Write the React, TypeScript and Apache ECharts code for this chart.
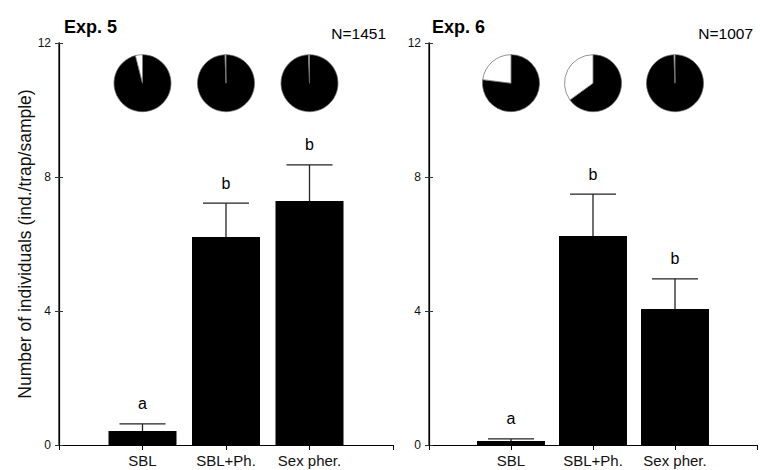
import React, { useEffect, useRef } from "react";
import * as echarts from "echarts";

const categories = ["SBL", "SBL+Ph.", "Sex pher."];
const exp5Means = [0.42, 6.21, 7.28];
const exp5Errors = [0.21, 1.01, 1.08];
const exp5Letters = ["a", "b", "b"];
const exp5PieWhite = [4, 0.6, 0.6];
const exp6Means = [0.12, 6.24, 4.06];
const exp6Errors = [0.06, 1.25, 0.9];
const exp6Letters = ["a", "b", "b"];
const exp6PieWhite = [23, 35, 0.6];
const yTicks = [0, 4, 8, 12];
const panelTitles = ["Exp. 5", "Exp. 6"];
const panelN = ["N=1451", "N=1007"];
const yAxisName = "Number of individuals (ind./trap/sample)";
const pieLevel = 10.8;

const FONT = 'Arial, "Liberation Sans", sans-serif';

const panels = [
  { means: exp5Means, errors: exp5Errors, letters: exp5Letters, pies: exp5PieWhite },
  { means: exp6Means, errors: exp6Errors, letters: exp6Letters, pies: exp6PieWhite },
];

function baseSeries() {
  const series: any[] = [];
  panels.forEach((p, g) => {
    series.push({
      type: "bar",
      xAxisIndex: g * 2,
      yAxisIndex: g * 2,
      barWidth: 68,
      itemStyle: { color: "#000" },
      silent: true,
      data: p.means.map((m, i) => [i + 1, m]),
    });
    series.push({
      type: "custom",
      xAxisIndex: g * 2,
      yAxisIndex: g * 2,
      silent: true,
      z: 5,
      data: p.means.map((m, i) => [i + 1, m, p.errors[i]]),
      renderItem: (params: any, api: any) => {
        const x = api.value(0);
        const m = api.value(1);
        const e = api.value(2);
        const p0 = api.coord([x, m]);
        const p1 = api.coord([x, m + e]);
        const half = 23;
        const stroke = { stroke: "#222", lineWidth: 1.3 };
        return {
          type: "group",
          children: [
            { type: "line", shape: { x1: p0[0], y1: p0[1], x2: p1[0], y2: p1[1] }, style: stroke },
            { type: "line", shape: { x1: p1[0] - half, y1: p1[1], x2: p1[0] + half, y2: p1[1] }, style: stroke },
            {
              type: "text",
              style: {
                text: p.letters[params.dataIndex],
                x: p1[0],
                y: p1[1] - 12,
                align: "center",
                verticalAlign: "bottom",
                fontSize: 16,
                fontFamily: FONT,
                fill: "#000",
              },
            },
          ],
        };
      },
    });
  });
  return series;
}

function buildOption(pieCenters: number[][][] | null) {
  const grids = [
    { left: 59, top: 43, width: 334, bottom: 25 },
    { left: 429, top: 43, width: 334, bottom: 25 },
  ];
  const xAxes: any[] = [];
  const yAxes: any[] = [];
  grids.forEach((_, g) => {
    xAxes.push({
      type: "value",
      gridIndex: g,
      min: 0,
      max: 4,
      interval: 1,
      position: "bottom",
      axisLine: { lineStyle: { color: "#000", width: 1.2 } },
      axisTick: { show: false },
      splitLine: { show: false },
      axisLabel: {
        margin: 8,
        fontSize: 15,
        fontFamily: FONT,
        color: "#111",
        formatter: (v: number) => categories[v - 1] ?? "",
      },
    });
    xAxes.push({
      type: "value",
      gridIndex: g,
      min: 0,
      max: 4,
      interval: 1,
      position: "top",
      axisLine: { lineStyle: { color: "#000", width: 1.2 } },
      axisTick: { show: true, inside: true, length: 5, lineStyle: { color: "#000" } },
      splitLine: { show: false },
      axisLabel: { show: false },
    });
    yAxes.push({
      type: "value",
      gridIndex: g,
      min: yTicks[0],
      max: yTicks[yTicks.length - 1],
      interval: yTicks[1] - yTicks[0],
      position: "left",
      name: g === 0 ? yAxisName : "",
      nameLocation: "middle",
      nameGap: 25,
      nameTextStyle: { fontSize: 17.5, fontFamily: FONT, color: "#111" },
      axisLine: { show: true, lineStyle: { color: "#444", width: 1.6 } },
      axisTick: { show: true, inside: true, length: 4, lineStyle: { color: "#333" } },
      splitLine: { show: false },
      axisLabel: { margin: 8, fontSize: 12, fontFamily: FONT, color: "#111" },
    });
    yAxes.push({
      type: "value",
      gridIndex: g,
      min: yTicks[0],
      max: yTicks[yTicks.length - 1],
      interval: yTicks[1] - yTicks[0],
      position: "right",
      axisLine: { show: true, lineStyle: { color: "#000", width: 1.2 } },
      axisTick: { show: true, inside: true, length: 4, lineStyle: { color: "#333" } },
      splitLine: { show: false },
      axisLabel: { show: false },
    });
  });

  const series = baseSeries();
  if (pieCenters) {
    panels.forEach((p, g) => {
      p.pies.forEach((white, i) => {
        series.push({
          type: "pie",
          silent: true,
          center: pieCenters[g][i],
          radius: 28.5,
          startAngle: 90,
          clockwise: true,
          label: { show: false },
          labelLine: { show: false },
          itemStyle: { borderColor: "#666", borderWidth: 0.7 },
          data: [
            { name: "black", value: 100 - white, itemStyle: { color: "#000" } },
            { name: "white", value: white, itemStyle: { color: "#fff" } },
          ],
        });
      });
    });
  }

  return {
    animation: false,
    backgroundColor: "#fff",
    title: [
      { text: panelTitles[0], left: 59, top: 13, textStyle: { fontSize: 18, fontWeight: "bold", fontFamily: FONT, color: "#000" } },
      { text: panelN[0], right: 369, top: 20, textStyle: { fontSize: 15.5, fontWeight: "normal", fontFamily: FONT, color: "#000" } },
      { text: panelTitles[1], left: 427, top: 13, textStyle: { fontSize: 18, fontWeight: "bold", fontFamily: FONT, color: "#000" } },
      { text: panelN[1], right: 2, top: 20, textStyle: { fontSize: 15.5, fontWeight: "normal", fontFamily: FONT, color: "#000" } },
    ],
    grid: grids,
    xAxis: xAxes,
    yAxis: yAxes,
    series,
  };
}

export default function App() {
  const ref = useRef<HTMLDivElement>(null);
  useEffect(() => {
    if (!ref.current) return;
    const chart = echarts.init(ref.current, undefined, { renderer: "svg" });
    chart.setOption(buildOption(null) as any);
    const centers = panels.map((p, g) =>
      p.pies.map((_, i) => chart.convertToPixel({ seriesIndex: g * 2 }, [i + 1, pieLevel]) as number[])
    );
    chart.setOption(buildOption(centers) as any);
    return () => chart.dispose();
  }, []);
  return (
    <div
      ref={ref}
      style={{ position: "fixed", left: 0, top: 0, width: 760, height: 470, background: "#fff" }}
    />
  );
}
